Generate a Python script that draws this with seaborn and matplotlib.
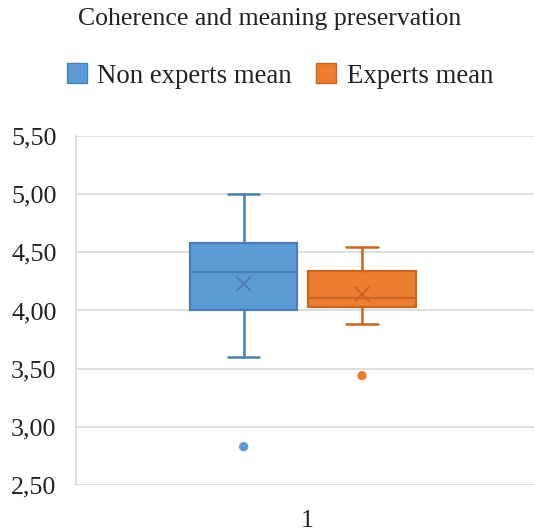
import matplotlib
matplotlib.use("Agg")
import matplotlib.pyplot as plt
from matplotlib.patches import Patch
from matplotlib.ticker import FuncFormatter
import seaborn as sns
import pandas as pd

# Summary statistics per group
groups = ["Non experts mean", "Experts mean"]
whisker_low = [3.60, 3.88]
q1 = [4.00, 4.03]
median = [4.33, 4.11]
q3 = [4.58, 4.34]
whisker_high = [5.00, 4.55]
means = [4.23, 4.14]
outliers = [[2.83], [3.44]]
category = "1"
y_ticks = [2.50, 3.00, 3.50, 4.00, 4.50, 5.00, 5.50]

fill_colors = ["#5B9BD5", "#ED7D31"]
line_colors = ["#4A7EB5", "#C9661F"]
offsets = [-0.137, 0.119]

sns.set_theme(style="whitegrid")
plt.rcParams["font.family"] = ["Liberation Serif", "DejaVu Serif"]

fig = plt.figure(figsize=(5.34, 5.31), dpi=100)
ax = fig.add_axes([76 / 534, 46 / 531, 462 / 534, 349 / 531])

for i in range(len(groups)):
    stats = [dict(med=median[i], q1=q1[i], q3=q3[i],
                  whislo=whisker_low[i], whishi=whisker_high[i],
                  fliers=[], mean=means[i])]
    ax.bxp(stats, positions=[offsets[i]], widths=0.232, patch_artist=True,
           showfliers=False, showmeans=False,
           boxprops=dict(facecolor=fill_colors[i], edgecolor=line_colors[i], linewidth=1.6),
           medianprops=dict(color=line_colors[i], linewidth=1.6),
           whiskerprops=dict(color=line_colors[i], linewidth=1.8),
           capprops=dict(color=line_colors[i], linewidth=1.8),
           capwidths=0.068, manage_ticks=False, zorder=3)

# Mean markers
mean_df = pd.DataFrame({"x": offsets, "y": means, "g": groups})
sns.scatterplot(data=mean_df, x="x", y="y", hue="g", palette=line_colors,
                marker="x", s=110, linewidth=1.4, legend=False, ax=ax, zorder=4)

# Outlier points
out_rows = [(offsets[i], v, groups[i]) for i in range(len(groups)) for v in outliers[i]]
out_df = pd.DataFrame(out_rows, columns=["x", "y", "g"])
sns.scatterplot(data=out_df, x="x", y="y", hue="g", palette=fill_colors,
                s=45, linewidth=0, legend=False, ax=ax, zorder=4)

ax.set_xlim(-0.5, 0.5)
ax.set_ylim(2.5, 5.5)
ax.set_yticks(y_ticks)
ax.yaxis.set_major_formatter(FuncFormatter(lambda v, p: f"{v:.2f}".replace(".", ",")))
ax.set_xticks([0])
ax.set_xticklabels([category])
ax.set_xlabel("")
ax.set_ylabel("")
ax.tick_params(axis="y", labelsize=18.7, pad=14, length=0, colors="#222222")
ax.tick_params(axis="x", labelsize=18.7, pad=18, length=0, colors="#222222")
ax.grid(axis="y", color="#D9D9D9", linewidth=1.2)
ax.grid(axis="x", visible=False)
for side in ["top", "right", "bottom"]:
    ax.spines[side].set_visible(False)
ax.spines["left"].set_visible(True)
ax.spines["left"].set_color("#D9D9D9")
ax.spines["left"].set_linewidth(1.2)
ax.set_facecolor("white")

fig.text(270 / 534, 1 - 19 / 531, "Coherence and meaning preservation",
         ha="center", va="center", fontsize=18.5, color="#222222")

handles = [Patch(facecolor=fill_colors[i], edgecolor=line_colors[i], linewidth=1.0, label=groups[i])
           for i in range(len(groups))]
fig.legend(handles=handles, loc="center", bbox_to_anchor=(280 / 534, 1 - 76 / 531),
           ncol=2, frameon=False, fontsize=19.3, handlelength=0.75, handleheight=0.75,
           handletextpad=0.4, columnspacing=0.9, labelcolor="#222222")

fig.savefig("out.png", dpi=100, facecolor="white")
